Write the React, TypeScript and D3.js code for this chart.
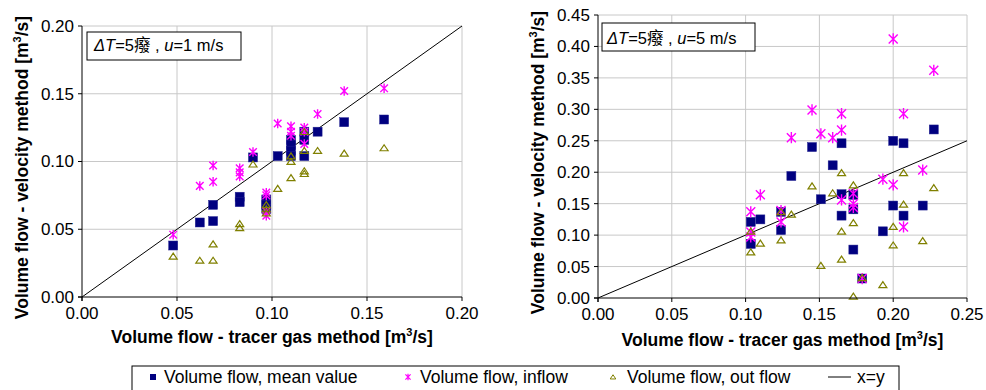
import React from "react";
import * as d3 from "d3";

// [tracer gas, velocity] in m3/s
const leftMean: [number, number][] = [
  [0.048, 0.038], [0.062, 0.055], [0.069, 0.068], [0.069, 0.056], [0.083, 0.074], [0.083, 0.070],
  [0.090, 0.103], [0.097, 0.072], [0.097, 0.068], [0.097, 0.065], [0.103, 0.104], [0.110, 0.116],
  [0.110, 0.112], [0.110, 0.108], [0.110, 0.104], [0.117, 0.122], [0.117, 0.116], [0.117, 0.104],
  [0.124, 0.122], [0.138, 0.129], [0.159, 0.131],
];
const leftIn: [number, number][] = [
  [0.048, 0.046], [0.062, 0.082], [0.069, 0.097], [0.069, 0.085], [0.083, 0.095], [0.083, 0.089],
  [0.083, 0.092], [0.090, 0.107], [0.097, 0.077], [0.097, 0.075], [0.097, 0.063], [0.097, 0.060],
  [0.103, 0.128], [0.110, 0.126], [0.110, 0.122], [0.110, 0.119], [0.117, 0.125], [0.117, 0.122],
  [0.117, 0.113], [0.124, 0.135], [0.138, 0.152], [0.159, 0.154],
];
const leftOut: [number, number][] = [
  [0.048, 0.030], [0.062, 0.027], [0.069, 0.039], [0.069, 0.027], [0.083, 0.054], [0.083, 0.051],
  [0.090, 0.098], [0.097, 0.068], [0.097, 0.065], [0.097, 0.062], [0.103, 0.080], [0.110, 0.088],
  [0.110, 0.100], [0.110, 0.104], [0.117, 0.108], [0.117, 0.122], [0.117, 0.093], [0.117, 0.091],
  [0.124, 0.108], [0.138, 0.106], [0.159, 0.110],
];

const rightMean: [number, number][] = [
  [0.1035, 0.121], [0.1035, 0.086], [0.110, 0.125], [0.124, 0.137], [0.124, 0.108], [0.131, 0.194],
  [0.145, 0.240], [0.151, 0.157], [0.159, 0.211], [0.165, 0.246], [0.165, 0.165], [0.165, 0.131],
  [0.173, 0.164], [0.173, 0.141], [0.173, 0.077], [0.179, 0.031], [0.193, 0.106], [0.200, 0.250],
  [0.200, 0.147], [0.207, 0.246], [0.207, 0.131], [0.220, 0.147], [0.2275, 0.268],
];
const rightIn: [number, number][] = [
  [0.1035, 0.137], [0.1035, 0.105], [0.1035, 0.097], [0.110, 0.164], [0.124, 0.139], [0.124, 0.121],
  [0.131, 0.255], [0.145, 0.299], [0.151, 0.261], [0.159, 0.255], [0.165, 0.293], [0.165, 0.267],
  [0.165, 0.156], [0.173, 0.166], [0.173, 0.150], [0.173, 0.144], [0.179, 0.031], [0.193, 0.189],
  [0.200, 0.412], [0.200, 0.180], [0.207, 0.293], [0.207, 0.113], [0.220, 0.2035], [0.2275, 0.362],
];
const rightOut: [number, number][] = [
  [0.1035, 0.106], [0.1035, 0.073], [0.110, 0.087], [0.124, 0.137], [0.124, 0.092], [0.131, 0.133],
  [0.145, 0.178], [0.151, 0.0515], [0.159, 0.167], [0.165, 0.199], [0.165, 0.106], [0.165, 0.0616],
  [0.173, 0.1796], [0.173, 0.1196], [0.173, 0.0027], [0.179, 0.032], [0.193, 0.021], [0.200, 0.1137],
  [0.200, 0.084], [0.207, 0.199], [0.207, 0.149], [0.220, 0.091], [0.2275, 0.1753],
];

const leftTicksX = [0, 0.05, 0.1, 0.15, 0.2];
const leftTicksY = [0, 0.05, 0.1, 0.15, 0.2];
const rightTicksX = [0, 0.05, 0.1, 0.15, 0.2, 0.25];
const rightTicksY = [0, 0.05, 0.1, 0.15, 0.2, 0.25, 0.3, 0.35, 0.4, 0.45];

const legendItems = ["Volume flow, mean value", "Volume flow, inflow", "Volume flow, out flow", "x=y"];

const FONT = "'Liberation Sans', Arial, 'Noto Sans CJK SC', sans-serif";
const NAVY = "#000080";
const MAGENTA = "#FF00FF";
const OLIVE = "#808000";
const GRID = "#C8C8C8";

const fmt = d3.format(".2f");

function star(s: number) {
  return `M${-s},${-s}L${s},${s}M${-s},${s}L${s},${-s}M0,${-s * 1.25}L0,${s * 1.25}`;
}
function tri(s: number) {
  return `M0,${-s * 0.8}L${s},${s * 0.7}L${-s},${s * 0.7}Z`;
}

type PanelProps = {
  x0: number; x1: number; y0: number; y1: number;
  xMax: number; yMax: number;
  ticksX: number[]; ticksY: number[];
  mean: [number, number][]; inflow: [number, number][]; outflow: [number, number][];
  box: { x: number; y: number; w: number; h: number; tx: number; ty: number; u: string };
  yTitleX: number; xTitleY: number; starSize: number;
};

function Panel(p: PanelProps) {
  const x = d3.scaleLinear().domain([0, p.xMax]).range([p.x0, p.x1]);
  const y = d3.scaleLinear().domain([0, p.yMax]).range([p.y1, p.y0]);
  const diag = d3.line<[number, number]>().x(d => x(d[0])).y(d => y(d[1]));
  const lim = Math.min(p.xMax, p.yMax);
  return (
    <g fontFamily={FONT}>
      {p.ticksX.filter(t => t > 0).map(t => (
        <line key={"gx" + t} x1={x(t)} x2={x(t)} y1={p.y0} y2={p.y1} stroke={GRID} strokeWidth={1} />
      ))}
      {p.ticksY.filter(t => t > 0).map(t => (
        <line key={"gy" + t} x1={p.x0} x2={p.x1} y1={y(t)} y2={y(t)} stroke={GRID} strokeWidth={1} />
      ))}
      <path d={diag([[0, 0], [lim, lim]]) || ""} stroke="#000" strokeWidth={1} fill="none" />
      {p.mean.map((d, i) => (
        <rect key={"m" + i} x={x(d[0]) - 4.5} y={y(d[1]) - 4.5} width={9} height={9} fill={NAVY} stroke="#20208f" strokeWidth={0.5} />
      ))}
      {p.inflow.map((d, i) => (
        <path key={"i" + i} transform={`translate(${x(d[0])},${y(d[1])})`} d={star(p.starSize)} stroke={MAGENTA} strokeWidth={1.4} fill="none" />
      ))}
      {p.outflow.map((d, i) => (
        <path key={"o" + i} transform={`translate(${x(d[0])},${y(d[1])})`} d={tri(4)} stroke={OLIVE} strokeWidth={1.2} fill="none" />
      ))}
      <line x1={p.x0} x2={p.x0} y1={p.y0} y2={p.y1 + 4} stroke="#000" />
      <line x1={p.x0 - 4} x2={p.x1} y1={p.y1} y2={p.y1} stroke="#000" />
      {p.ticksY.map(t => (
        <g key={"ty" + t}>
          <line x1={p.x0 - 4} x2={p.x0} y1={y(t)} y2={y(t)} stroke="#000" />
          <text x={p.x0 - 8} y={y(t)} dy="0.35em" textAnchor="end" fontSize={17}>{fmt(t)}</text>
        </g>
      ))}
      {p.ticksX.map(t => (
        <g key={"tx" + t}>
          <line x1={x(t)} x2={x(t)} y1={p.y1} y2={p.y1 + 4} stroke="#000" />
          <text x={x(t)} y={p.y1 + 22} textAnchor="middle" fontSize={17}>{fmt(t)}</text>
        </g>
      ))}
      <text x={(p.x0 + p.x1) / 2} y={p.xTitleY} textAnchor="middle" fontSize={17.5} fontWeight="bold">
        Volume flow - tracer gas method [m<tspan fontSize={11} dy={-7}>3</tspan><tspan dy={7}>/s]</tspan>
      </text>
      <text transform={`translate(${p.yTitleX},${(p.y0 + p.y1) / 2 + 6}) rotate(-90)`} textAnchor="middle" fontSize={17.5} fontWeight="bold">
        Volume flow - velocity method [m<tspan fontSize={11} dy={-7}>3</tspan><tspan dy={7}>/s]</tspan>
      </text>
      <rect x={p.box.x} y={p.box.y} width={p.box.w} height={p.box.h} fill="#fff" stroke="#000" strokeWidth={1} />
      <text x={p.box.tx} y={p.box.ty} fontSize={16.5}>
        <tspan fontStyle="italic">ΔT</tspan>=5癈 , <tspan fontStyle="italic">u</tspan>={p.box.u} m/s
      </text>
    </g>
  );
}

export default function App() {
  const legendX = [153, 408, 613, 828];
  return (
    <div style={{ position: "absolute", left: 0, top: 0 }}>
      <svg width={986} height={390} style={{ display: "block", background: "#fff" }}>
        <Panel x0={82} x1={462} y0={26} y1={297} xMax={0.2} yMax={0.2}
          ticksX={leftTicksX} ticksY={leftTicksY}
          mean={leftMean} inflow={leftIn} outflow={leftOut}
          box={{ x: 87, y: 32, w: 154, h: 28, tx: 94, ty: 51, u: "1" }}
          yTitleX={28} xTitleY={343} starSize={3.8} />
        <Panel x0={598} x1={967} y0={15} y1={298} xMax={0.25} yMax={0.45}
          ticksX={rightTicksX} ticksY={rightTicksY}
          mean={rightMean} inflow={rightIn} outflow={rightOut}
          box={{ x: 602, y: 23, w: 153, h: 28, tx: 607, ty: 44, u: "5" }}
          yTitleX={544} xTitleY={346} starSize={4.5} />
        <g fontFamily={FONT} fontSize={17.5}>
          <rect x={132} y={366} width={767} height={40} fill="#fff" stroke="#000" strokeWidth={1} />
          <rect x={legendX[0] - 3} y={374} width={6} height={6} fill={NAVY} />
          <text x={legendX[0] + 11} y={383}>{legendItems[0]}</text>
          <path transform={`translate(${legendX[1]},377)`} d={star(2.6)} stroke={MAGENTA} strokeWidth={1.2} fill="none" />
          <text x={legendX[1] + 12} y={383}>{legendItems[1]}</text>
          <path transform={`translate(${legendX[2]},377)`} d={tri(2.8)} stroke={OLIVE} strokeWidth={1} fill="none" />
          <text x={legendX[2] + 14} y={383}>{legendItems[2]}</text>
          <line x1={legendX[3]} x2={legendX[3] + 23} y1={377} y2={377} stroke="#000" />
          <text x={legendX[3] + 29} y={383}>{legendItems[3]}</text>
        </g>
      </svg>
    </div>
  );
}
